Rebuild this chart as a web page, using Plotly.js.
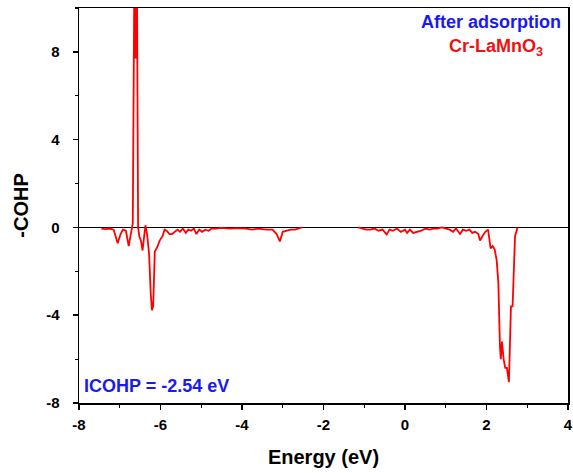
<!DOCTYPE html>
<html><head><meta charset="utf-8">
<script src="https://cdn.plot.ly/plotly-3.0.1.min.js"></script>
<style>body{margin:0;padding:0;background:#fff}#chart{width:573px;height:473px}</style>
</head><body><div id="chart"></div>
<script>
const energy = [-7.45,-7.35,-7.25,-7.15,-7.05,-6.98,-6.92,-6.85,-6.78,-6.72,-6.68,-6.64,-6.61,-6.58,-6.55,-6.52,-6.48,-6.44,-6.40,-6.37,-6.33,-6.28,-6.24,-6.21,-6.18,-6.14,-6.08,-6.02,-5.95,-5.90,-5.85,-5.78,-5.72,-5.65,-5.58,-5.52,-5.45,-5.38,-5.32,-5.25,-5.18,-5.12,-5.05,-4.98,-4.90,-4.82,-4.75,-4.65,-4.50,-4.30,-4.10,-3.90,-3.75,-3.60,-3.40,-3.25,-3.15,-3.07,-3.00,-2.90,-2.80,-2.70,-2.60,-2.53,
  -2.50,
  -1.15,-1.05,-0.95,-0.85,-0.75,-0.65,-0.55,-0.45,-0.38,-0.30,-0.20,-0.10,0.00,0.05,0.12,0.20,0.30,0.40,0.50,0.60,0.70,0.80,0.90,1.00,1.10,1.18,1.25,1.35,1.42,1.50,1.58,1.65,1.72,1.80,1.84,1.90,1.97,2.04,2.10,2.15,2.20,2.25,2.29,2.33,2.35,2.38,2.42,2.46,2.50,2.55,2.60,2.64,2.68,2.70,2.76];
const cohp = [-0.05,-0.08,-0.05,-0.1,-0.72,-0.3,-0.1,-0.15,-0.85,-0.3,0.2,12,7.7,12,0,-0.4,-0.6,-1.05,-0.3,0.1,-0.3,-1.2,-3.0,-3.77,-3.6,-1.1,-0.9,-0.6,-0.4,-0.1,-0.15,-0.3,-0.3,-0.2,-0.1,-0.2,-0.05,-0.25,-0.1,-0.15,-0.05,-0.3,-0.1,-0.2,-0.1,-0.15,-0.05,-0.05,-0.02,-0.05,-0.03,-0.05,-0.1,-0.05,-0.1,-0.1,-0.3,-0.64,-0.2,-0.15,-0.1,-0.1,-0.05,0,
  null,
  0,-0.05,-0.1,-0.1,-0.05,-0.15,-0.1,-0.32,-0.1,-0.15,-0.05,-0.2,-0.1,-0.25,-0.1,-0.25,-0.2,-0.15,-0.05,-0.1,-0.05,-0.05,0,-0.05,-0.1,-0.2,-0.05,-0.3,-0.1,-0.15,-0.1,-0.25,-0.2,-0.3,-0.6,-0.4,-0.2,-0.1,-0.95,-0.85,-1.0,-1.5,-2.5,-5.4,-6.0,-5.2,-6.0,-6.4,-6.4,-7.05,-3.6,-3.6,-1.5,-0.4,0];
const xTicks = [-8,-6,-4,-2,0,2,4];
const yTicks = [-8,-4,0,4,8];

const font = 'Liberation Sans, Arial, sans-serif';
Plotly.newPlot('chart', [{
  x: energy, y: cohp, type: 'scatter', mode: 'lines',
  line: {color: '#ff0000', width: 1.8}, connectgaps: false, hoverinfo: 'skip'
}], {
  width: 573, height: 473,
  margin: {l: 79, r: 5, t: 8, b: 70},
  paper_bgcolor: '#fff', plot_bgcolor: '#fff',
  showlegend: false,
  font: {family: font, color: '#000'},
  xaxis: {
    range: [-8, 4], tickvals: xTicks, ticktext: xTicks.map(v => '<b>' + v + '</b>'),
    showgrid: false, zeroline: false, showline: true, mirror: true,
    linecolor: '#000', linewidth: 1.5, ticks: 'outside', ticklen: 5, tickwidth: 1.5, tickcolor: '#000',
    minor: {dtick: 1, tick0: -8, ticks: 'outside', ticklen: 3, tickwidth: 1.2, tickcolor: '#000'},
    tickfont: {family: font, size: 15, color: '#000'},
    ticklabelstandoff: 2,
    title: {text: '<b>Energy (eV)</b>', font: {family: font, size: 20, color: '#000'}, standoff: 18}
  },
  yaxis: {
    range: [-8, 10], tickvals: yTicks, ticktext: yTicks.map(v => '<b>' + v + '</b>'),
    showgrid: false, zeroline: true, zerolinecolor: '#000', zerolinewidth: 1.5,
    showline: true, mirror: true,
    linecolor: '#000', linewidth: 1.5, ticks: 'outside', ticklen: 5, tickwidth: 1.5, tickcolor: '#000',
    minor: {dtick: 2, tick0: 0, ticks: 'outside', ticklen: 3, tickwidth: 1.2, tickcolor: '#000'},
    tickfont: {family: font, size: 15, color: '#000'},
    ticklabelstandoff: 10,
    title: {text: '<b>-COHP</b>', font: {family: font, size: 20, color: '#000'}, standoff: 12}
  },
  annotations: [
    {xref: 'paper', yref: 'paper', x: 0.99, y: 0.965, xanchor: 'right', yanchor: 'middle', showarrow: false,
     text: '<b>After adsorption</b>', font: {family: font, size: 18, color: '#1a1aee'}},
    {xref: 'paper', yref: 'paper', x: 0.953, y: 0.9, xanchor: 'right', yanchor: 'middle', showarrow: false,
     text: '<b>Cr-LaMnO<sub>3</sub></b>', font: {family: font, size: 18, color: '#ee1111'}},
    {xref: 'paper', yref: 'paper', x: 0.006, y: 0.042, xanchor: 'left', yanchor: 'middle', showarrow: false,
     text: '<b>ICOHP = -2.54 eV</b>', font: {family: font, size: 18, color: '#1a1aee'}}
  ]
}, {staticPlot: true});
</script></body></html>
